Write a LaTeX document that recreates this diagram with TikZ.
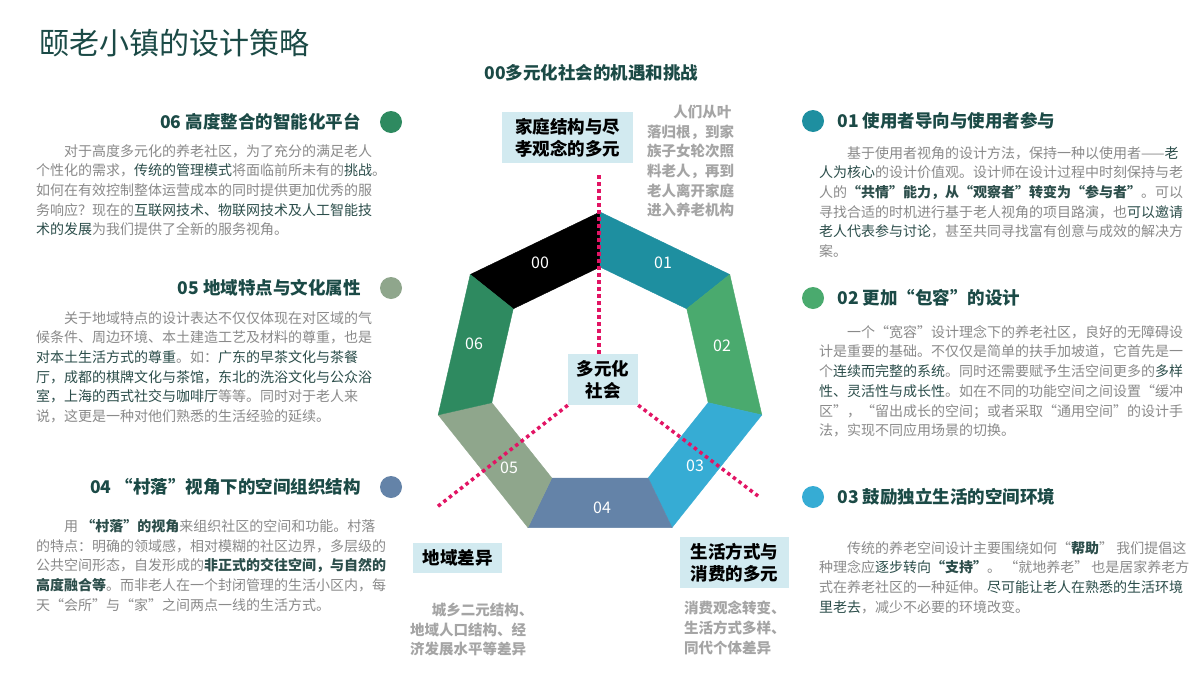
\documentclass[tikz,border=0pt]{standalone}
\usepackage{fontspec}
\setmainfont{Noto Sans CJK SC}
\usepackage{tikz}
\usetikzlibrary{positioning}
\tikzset{>=latex}
\definecolor{headc}{RGB}{27,74,70}
\definecolor{bodyc}{RGB}{138,138,138}
\definecolor{keyc}{RGB}{43,77,74}
\definecolor{notec}{RGB}{165,165,165}
\definecolor{boxc}{RGB}{210,234,240}
\definecolor{dotc}{RGB}{226,20,100}
\definecolor{seg1}{RGB}{30,143,160}
\definecolor{seg2}{RGB}{74,170,110}
\definecolor{seg3}{RGB}{54,172,212}
\definecolor{seg4}{RGB}{100,131,168}
\definecolor{seg5}{RGB}{143,166,140}
\definecolor{seg6}{RGB}{46,138,96}
\newcommand\keyw[1]{\textcolor{keyc}{#1}}
\newcommand\keyb[1]{\textcolor{keyc}{\bfseries #1}}

\begin{document}
\begin{tikzpicture}[x=1pt, y=-1pt,
	hdot/.style={circle, fill=#1, minimum size=22pt, inner sep=0pt},
	head/.style={font=\fontsize{17.5}{21}\selectfont\bfseries, text=headc, inner sep=0pt},
	body/.style={font=\fontsize{14}{19.7}\selectfont, text=bodyc, align=left, inner sep=0pt, anchor=north west},
	box/.style={fill=boxc, font=\fontsize{17.5}{22}\selectfont\bfseries, align=center, inner sep=0pt},
	note/.style={font=\fontsize{14.5}{19.6}\selectfont\bfseries, text=notec, align=left, inner sep=0pt, anchor=north west},
	seglabel/.style={text=white, font=\fontsize{16}{16}\selectfont},
	pinkdots/.style={draw=dotc, line width=3.5pt, dash pattern=on 3.5pt off 3.5pt}]
	\useasboundingbox (0,0) rectangle (1200,675);
	\fill[white] (0,0) rectangle (1200,675);
	\node[anchor=west, text=headc, font=\fontsize{30}{30}\selectfont, inner sep=0pt] (title) at (39,43) {颐老小镇的设计策略};
	\node[head] (head0) at (591.5,73) {00多元化社会的机遇和挑战};
	% heptagon ring
	\begin{scope}[shift={(600,378)}]
		\foreach \i/\col in {0/black,1/seg1,2/seg2,3/seg3,4/seg4,5/seg5,6/seg6}{
			\pgfmathsetmacro\angA{141.43-51.43*\i}
			\pgfmathsetmacro\angB{90-51.43*\i}
			\path[fill=\col, draw=\col, line width=0.4pt] (\angA:166pt) -- (\angB:166pt) -- (\angB:111pt) -- (\angA:111pt) -- cycle;
		}
	\end{scope}
	\foreach \i/\lx/\ly in {0/540/263,1/663/263,2/722/346,3/695/466,4/602/508,5/509/468,6/474/344}
		\node[seglabel] (s\i) at (\lx,\ly) {0\i};
	% boxes round the ring
	\node[box, minimum width=131pt, minimum height=51pt] (family) at (567.5,137.5) {家庭结构与尽\\孝观念的多元};
	\node[box, minimum width=70pt, minimum height=51pt] (hub) at (603,379.5) {多元化\\社会};
	\node[box, minimum width=89pt, minimum height=30pt] (region) at (457.5,558) {地域差异};
	\node[box, minimum width=109pt, minimum height=51pt] (life) at (734.5,562.5) {生活方式与\\消费的多元};
	\node[note] (familynote) at (647,105) {\hspace*{1.8em}人们从叶\\落归根，到家\\族子女轮次照\\料老人，再到\\老人离开家庭\\进入养老机构};
	\node[note] (regionnote) at (410,603) {\hspace*{1.5em}城乡二元结构、\\地域人口结构、经\\济发展水平等差异};
	\node[note] (lifenote) at (684,601) {消费观念转变、\\生活方式多样、\\同代个体差异};
	% dotted rays
	\coordinate (vtop) at (599,175);
	\coordinate (lend) at (437,507);
	\coordinate (rend) at (758,496);
	\draw[pinkdots] (vtop) -- (vtop |- hub.north);
	\draw[pinkdots] (hub.south west) -- (lend);
	\draw[pinkdots] (hub.south east) -- (rend);
	% left column
	\node[hdot=seg6] (d6) at (391,122) {};
	\node[head, left=19pt of d6] (h6) {06 高度整合的智能化平台};
	\node[body] (t6) at (36,144) {\hspace*{2em}对于高度多元化的养老社区，为了充分的满足老人\\
		个性化的需求，\keyw{传统的管理模式}将面临前所未有的\keyw{挑战}。\\
		如何在有效控制整体运营成本的同时提供更加优秀的服\\
		务响应？现在的\keyw{互联网技术、物联网技术及人工智能技}\\
		\keyw{术的发展}为我们提供了全新的服务视角。};
	\node[hdot=seg5] (d5) at (391,288) {};
	\node[head, left=19pt of d5] (h5) {05 地域特点与文化属性};
	\node[body] (t5) at (36,311) {\hspace*{2em}关于地域特点的设计表达不仅仅体现在对区域的气\\
		候条件、周边环境、本土建造工艺及材料的尊重，也是\\
		\keyw{对本土生活方式的尊重}。如：\keyw{广东的早茶文化与茶餐}\\
		\keyw{厅，成都的棋牌文化与茶馆，东北的洗浴文化与公众浴}\\
		\keyw{室，上海的西式社交与咖啡厅}等等。同时对于老人来\\
		说，这更是一种对他们熟悉的生活经验的延续。};
	\node[hdot=seg4] (d4) at (391,487) {};
	\node[head, left=19pt of d4] (h4) {04 “村落”视角下的空间组织结构};
	\node[body] (t4) at (36,519) {\hspace*{2em}用 \keyb{“村落”的视角}来组织社区的空间和功能。村落\\
		的特点：明确的领域感，相对模糊的社区边界，多层级的\\
		公共空间形态，自发形成的\keyb{非正式的交往空间，与自然的}\\
		\keyb{高度融合等}。而非老人在一个封闭管理的生活小区内，每\\
		天“会所”与“家”之间两点一线的生活方式。};
	% right column
	\node[hdot=seg1] (d1) at (813,121) {};
	\node[head, right=13pt of d1] (h1) {01 使用者导向与使用者参与};
	\node[body] (t1) at (819,146) {\hspace*{2em}基于使用者视角的设计方法，保持一种以使用者——\keyw{老}\\
		\keyw{人为核心}的设计价值观。设计师在设计过程中时刻保持与老\\
		人的\keyb{“共情”能力，从“观察者”转变为“参与者”}。可以\\
		寻找合适的时机进行基于老人视角的项目路演，也\keyw{可以邀请}\\
		\keyw{老人代表参与讨论}，甚至共同寻找富有创意与成效的解决方\\
		案。};
	\node[hdot=seg2] (d2) at (813,298) {};
	\node[head, right=13pt of d2] (h2) {02 更加“包容”的设计};
	\node[body] (t2) at (819,325) {\hspace*{2em}一个“宽容”设计理念下的养老社区，良好的无障碍设\\
		计是重要的基础。不仅仅是简单的扶手加坡道，它首先是一\\
		个\keyw{连续而完整的系统}。同时还需要赋予生活空间更多的\keyw{多样}\\
		\keyw{性、灵活性与成长性}。如在不同的功能空间之间设置“缓冲\\
		区”，“留出成长的空间；或者采取“通用空间”的设计手\\
		法，实现不同应用场景的切换。};
	\node[hdot=seg3] (d3) at (813,497) {};
	\node[head, right=13pt of d3] (h3) {03 鼓励独立生活的空间环境};
	\node[body] (t3) at (819,541) {\hspace*{2em}传统的养老空间设计主要围绕如何“\keyb{帮助}” 我们提倡这\\
		种理念应\keyw{逐步转向}\keyb{“支持”}。 “就地养老” 也是居家养老方\\
		式在养老社区的一种延伸。\keyw{尽可能让老人在熟悉的生活环境}\\
		\keyw{里老去}，减少不必要的环境改变。};
\end{tikzpicture}
\end{document}
